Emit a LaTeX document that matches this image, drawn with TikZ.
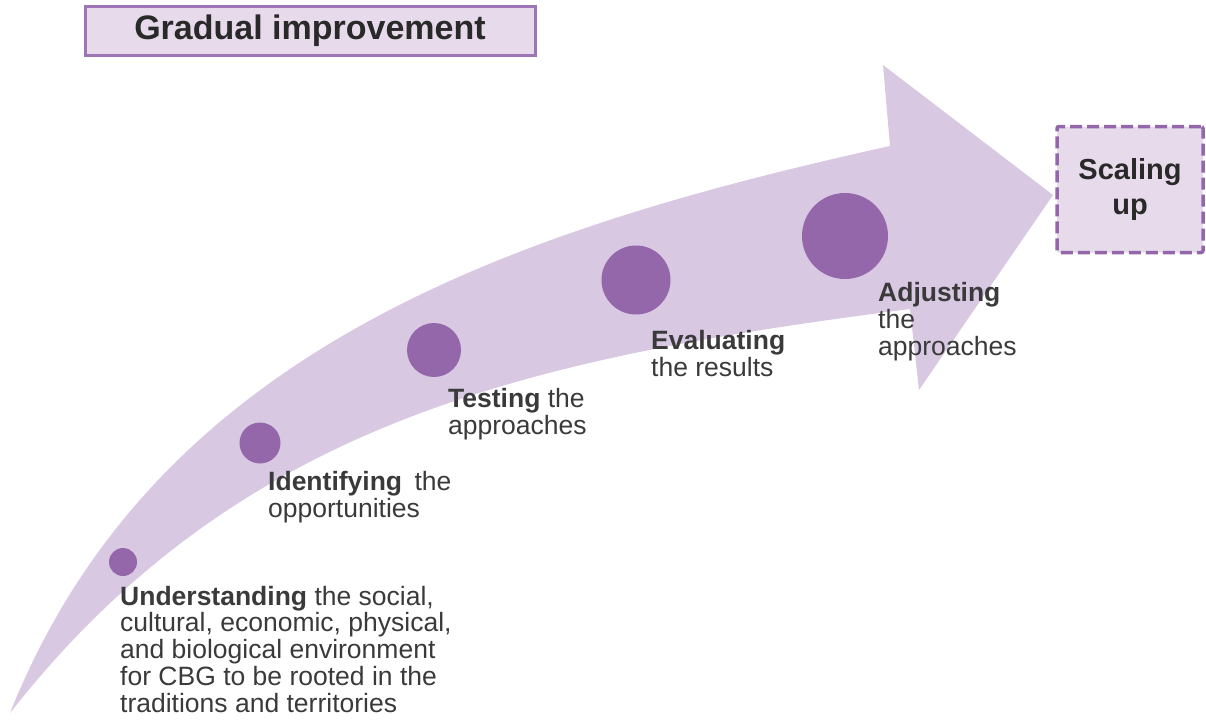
\documentclass[tikz,border=0pt]{standalone}
\usepackage{fontspec}
\setmainfont{Liberation Sans}
\definecolor{band}{HTML}{D8C8E2}
\definecolor{dot}{HTML}{9467AB}
\definecolor{boxfill}{HTML}{E6DAEB}
\definecolor{boxline}{HTML}{9D74B5}
\definecolor{ink}{HTML}{3A3A3A}
\begin{document}
\begin{tikzpicture}[x=1pt,y=-1pt,
  stage/.style={circle,fill=dot,inner sep=0pt,minimum size=#1},
  % anchored at the baseline of the last line
  steptext/.style={anchor=base west,align=left,inner sep=0pt,text=ink,
    font=\fontsize{26.5}{26.7}\selectfont},
]
\useasboundingbox (0,0) rectangle (1206,721);

% curved progress arrow
\fill[band] (10,713) .. controls (155,350) and (510,230) .. (890,146)
  -- (883,65) -- (1053,195) -- (919,390) -- (910,309)
  .. controls (530,358) and (240,420) .. (10,713) -- cycle;

% stages along the arrow
\node[stage=28pt] (s1) at (123,562) {};
\node[stage=41pt] (s2) at (260,443) {};
\node[stage=54pt] (s3) at (434,350) {};
\node[stage=69pt] (s4) at (636,280) {};
\node[stage=86pt] (s5) at (845,236) {};

% stage descriptions
\node[steptext] (t1) at (120,712) {\textbf{Understanding} the social,\\cultural, economic, physical,\\and biological environment\\for CBG to be rooted in the\\traditions and territories};
\node[steptext] (t2) at (268,517) {\textbf{Identifying}\hspace{5pt} the\\opportunities};
\node[steptext] (t3) at (448,434) {\textbf{Testing} the\\approaches};
\node[steptext] (t4) at (651,376) {\textbf{Evaluating}\\the results};
\node[steptext] (t5) at (878,355) {\textbf{Adjusting}\\the\\approaches};

% title and goal boxes
\node[draw=boxline,fill=boxfill,line width=3pt,minimum width=450pt,minimum height=49pt,
  inner sep=0pt,text=ink!70!black,font=\fontsize{34}{40}\selectfont\bfseries]
  (title) at (310,30.5) {Gradual improvement};
\node[draw=dot,fill=boxfill,line width=3.5pt,dash pattern=on 12pt off 5pt,rounded corners=2pt,
  minimum width=146pt,minimum height=126pt,inner sep=0pt,align=center,text=ink!70!black,
  font=\fontsize{29}{35}\selectfont\bfseries]
  (goal) at (1130,189.5) {Scaling\\up};
\end{tikzpicture}
\end{document}
